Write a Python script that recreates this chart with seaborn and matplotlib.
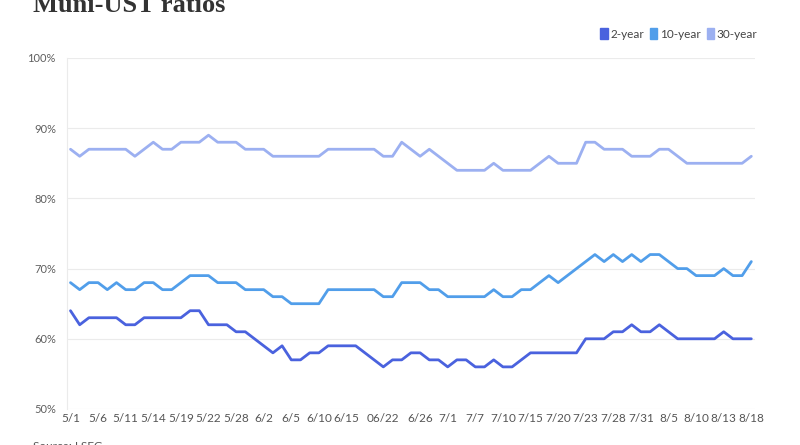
import pandas as pd
import matplotlib
matplotlib.use('Agg')
import matplotlib.pyplot as plt
from matplotlib.patches import Patch
import seaborn as sns

# data (ratio, %), one value per trading day
y2 = [64, 62, 63, 63, 63, 63, 62, 62, 63, 63, 63, 63, 63, 64, 64, 62, 62, 62, 61, 61,
      60, 59, 58, 59, 57, 57, 58,
      58, 59, 59, 59, 59, 58, 57, 56, 57, 57, 58, 58, 57, 57, 56, 57, 57, 56, 56,
      57, 56, 56, 57, 58, 58, 58,
      58, 58, 58, 60, 60, 60, 61, 61, 62, 61, 61, 62, 61, 60, 60, 60, 60, 60, 61,
      60, 60, 60]
y10 = [68, 67, 68, 68, 67, 68, 67, 67, 68, 68, 67, 67, 68, 69, 69, 69, 68, 68, 68, 67,
       67, 67, 66, 66, 65, 65, 65,
       65, 67, 67, 67, 67, 67, 67, 66, 66, 68, 68, 68, 67, 67, 66, 66, 66, 66, 66,
       67, 66, 66, 67, 67, 68, 69,
       68, 69, 70, 71, 72, 71, 72, 71, 72, 71, 72, 72, 71, 70, 70, 69, 69, 69, 70,
       69, 69, 71]
y30 = [87, 86, 87, 87, 87, 87, 87, 86, 87, 88, 87, 87, 88, 88, 88, 89, 88, 88, 88, 87,
       87, 87, 86, 86, 86, 86, 86,
       86, 87, 87, 87, 87, 87, 87, 86, 86, 88, 87, 86, 87, 86, 85, 84, 84, 84, 84,
       85, 84, 84, 84, 84, 85, 86,
       85, 85, 85, 88, 88, 87, 87, 87, 86, 86, 86, 87, 87, 86, 85, 85, 85, 85, 85,
       85, 85, 86]

tick_pos = [0, 3, 6, 9, 12, 15, 18, 21, 24, 27, 30, 34, 38, 41, 44, 47, 50, 53,
            56, 59, 62, 65, 68, 71, 74]
tick_labels = ['5/1', '5/6', '5/11', '5/14', '5/19', '5/22', '5/28', '6/2', '6/5',
               '6/10', '6/15', '06/22', '6/26', '7/1', '7/7', '7/10', '7/15', '7/20',
               '7/23', '7/28', '7/31', '8/5', '8/10', '8/13', '8/18']

series = ['2-year', '10-year', '30-year']
colors = ['#4a62de', '#519eea', '#9cb0f1']

#%%
n = len(y2)
df = pd.DataFrame({
    'day': list(range(n)) * 3,
    'ratio': y2 + y10 + y30,
    'series': ['2-year'] * n + ['10-year'] * n + ['30-year'] * n,
})

sns.set_style('white')
plt.rcParams['font.family'] = ['Lato', 'DejaVu Sans']

fig = plt.figure(figsize=(8, 4.45), dpi=100)
ax = fig.add_axes([0.08375, 0.0809, 0.86, 0.7888])

sns.lineplot(data=df, x='day', y='ratio', hue='series', hue_order=series,
             palette=colors, linewidth=2, ax=ax, legend=False,
             solid_joinstyle='round', solid_capstyle='round')

ax.set_ylim(50, 100)
ax.set_xlim(-0.38, 74.4)
ax.set_yticks([50, 60, 70, 80, 90, 100])
ax.set_yticklabels([f'{v}%' for v in [50, 60, 70, 80, 90, 100]])
ax.set_xticks(tick_pos)
ax.set_xticklabels(tick_labels)
ax.set_xticks(range(n), minor=True)
ax.set_xlabel('')
ax.set_ylabel('')

ax.grid(axis='y', color='#ebebeb', linewidth=0.8)
ax.set_axisbelow(True)
for s in ['top', 'right', 'bottom']:
    ax.spines[s].set_visible(False)
ax.spines['left'].set_color('#ebebeb')
ax.spines['left'].set_linewidth(0.8)

ax.tick_params(axis='y', length=0, pad=8, labelsize=8, labelcolor='#5f5f5f')
ax.tick_params(axis='x', which='both', length=3, color='#eeeeee', pad=3,
               labelsize=8.5, labelcolor='#555555', direction='in')

handles = [Patch(facecolor=c, edgecolor=c, label=s) for s, c in zip(series, colors)]
leg = fig.legend(handles=handles, loc='upper right', bbox_to_anchor=(0.947, 0.937),
                 ncol=3, frameon=False, fontsize=8.5, handlelength=0.6,
                 handleheight=1.1, handletextpad=0.25, columnspacing=0.5,
                 borderpad=0, borderaxespad=0, labelcolor='#444444')

fig.text(0.041, 0.972, 'Muni-UST ratios', fontsize=19, fontweight='bold',
         family='Liberation Serif', color='#333333', va='baseline')
fig.text(0.041, 0.01, 'Source: LSEG', fontsize=8.5, color='#555555', va='top')

fig.savefig('out.png', dpi=100)
